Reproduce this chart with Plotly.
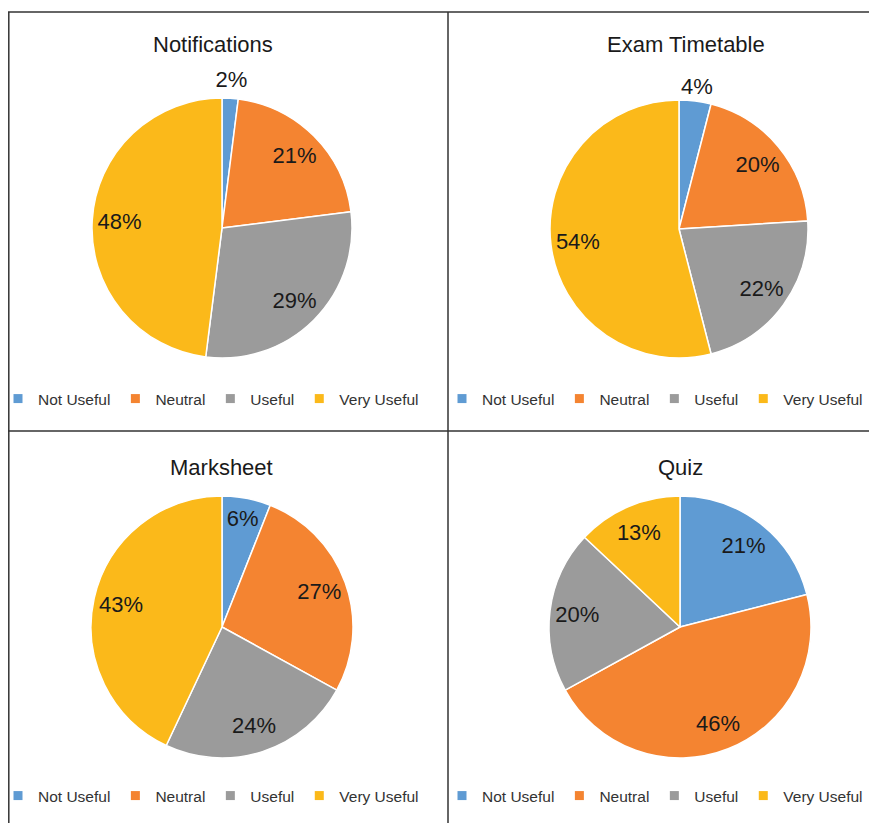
import plotly.graph_objects as go

# figure sized so that, with the page's 8px body margin, it fills the 877x823 window without scrollbars
OFF = 8
W, H = 877 - OFF, 823 - OFF

categories = ["Not Useful", "Neutral", "Useful", "Very Useful"]
colors = ["#5F9BD3", "#F48431", "#9B9B9B", "#FBB91A"]

titles = ["Notifications", "Exam Timetable", "Marksheet", "Quiz"]
notifications = [2, 21, 29, 48]
exam_timetable = [4, 20, 22, 54]
marksheet = [6, 27, 24, 43]
quiz = [21, 46, 20, 13]

# which slice labels sit outside the pie
outside_labels = [
    [True, False, False, False],
    [True, False, False, False],
    [False, False, False, False],
    [False, False, False, False],
]

FONT = "Liberation Sans, Arial, sans-serif"


def px(x):
    return (x - OFF) / W


def py(y):
    return 1 - (y - OFF) / H


series = [notifications, exam_timetable, marksheet, quiz]
# panel layout in window pixels: pie centre x, centre y, radius, title x, title y, legend text x, legend y
panels = [
    (222, 228, 130, 213, 45, 38, 399),
    (679, 229, 129, 686, 45, 482, 399),
    (222, 627, 131, 221, 467, 38, 796),
    (680, 627, 131, 680, 467, 482, 796),
]

fig = go.Figure()
annotations = []
legends = {}
for i, (vals, (cx, cy, r, tx, ty, lx, ly)) in enumerate(zip(series, panels)):
    lname = "legend" if i == 0 else f"legend{i+1}"
    dom = dict(x=[px(cx - r), px(cx + r)], y=[py(cy + r), py(cy - r)])
    # coloured pie
    fig.add_trace(go.Pie(
        labels=categories, values=vals, sort=False,
        direction="clockwise", rotation=0,
        marker=dict(colors=colors, line=dict(color="white", width=1.5)),
        textinfo="none", domain=dom, showlegend=False,
        hoverinfo="label+percent",
    ))
    # transparent ring carrying the inside percentage labels
    fig.add_trace(go.Pie(
        labels=categories, values=vals, sort=False,
        direction="clockwise", rotation=0, hole=0.58,
        marker=dict(colors=["rgba(0,0,0,0)"] * 4, line=dict(width=0)),
        texttemplate=["" if o else "%{percent:.0%}" for o in outside_labels[i]],
        textposition="inside", insidetextorientation="horizontal",
        textfont=dict(size=22, color="#1a1a1a", family=FONT),
        domain=dom, showlegend=False, hoverinfo="skip",
    ))
    # larger transparent ring carrying the labels that sit outside the pie
    if any(outside_labels[i]):
        R = r * 1.22
        dom2 = dict(x=[px(cx - R), px(cx + R)], y=[py(cy + R), py(cy - R)])
        fig.add_trace(go.Pie(
            labels=categories, values=vals, sort=False,
            direction="clockwise", rotation=0, hole=r / R,
            marker=dict(colors=["rgba(0,0,0,0)"] * 4, line=dict(width=0)),
            texttemplate=["%{percent:.0%}" if o else "" for o in outside_labels[i]],
            textposition="inside", insidetextorientation="horizontal",
            textfont=dict(size=22, color="#1a1a1a", family=FONT),
            domain=dom2, showlegend=False, hoverinfo="skip",
        ))
    # legend entries
    for cat, col in zip(categories, colors):
        fig.add_trace(go.Scatter(
            x=[None], y=[None], mode="markers", name=cat,
            marker=dict(symbol="square", size=9, color=col),
            legend=lname, showlegend=True, hoverinfo="skip",
        ))
    annotations.append(dict(
        text=titles[i], x=px(tx), y=py(ty), xref="paper", yref="paper",
        showarrow=False, xanchor="center", yanchor="middle",
        font=dict(size=22, color="#1a1a1a", family=FONT),
    ))
    legends[lname] = dict(
        orientation="h", x=(lx - OFF - 40) / W,
        y=py(ly), xanchor="left", yanchor="middle",
        font=dict(size=15.5, color="#333333", family=FONT),
        bgcolor="rgba(0,0,0,0)", itemwidth=30, traceorder="normal",
    )

line = dict(color="#333333", width=1.5)
shapes = [
    dict(type="line", xref="paper", yref="paper", x0=px(8.8), x1=px(8.8), y0=py(12), y1=-0.01, line=line),
    dict(type="line", xref="paper", yref="paper", x0=px(8), x1=1.02, y0=py(12), y1=py(12), line=line),
    dict(type="line", xref="paper", yref="paper", x0=px(448), x1=px(448), y0=py(12), y1=-0.01, line=line),
    dict(type="line", xref="paper", yref="paper", x0=px(8), x1=1.02, y0=py(431), y1=py(431), line=line),
]

fig.update_layout(
    width=W, height=H,
    margin=dict(l=0, r=0, t=0, b=0, autoexpand=False),
    paper_bgcolor="white", plot_bgcolor="white",
    xaxis=dict(visible=False), yaxis=dict(visible=False),
    annotations=annotations, shapes=shapes,
    uniformtext=dict(minsize=22, mode="show"),
    **legends,
)

fig.write_html("out.html")
